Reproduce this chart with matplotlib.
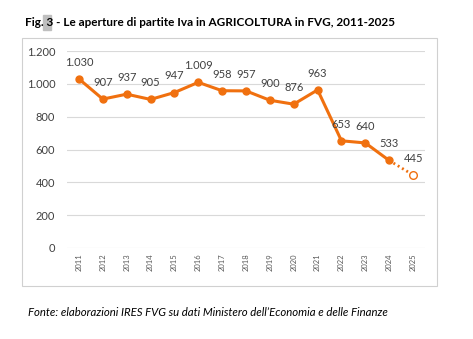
import matplotlib.pyplot as plt
from matplotlib.patches import Rectangle

years = ["2011", "2012", "2013", "2014", "2015", "2016", "2017", "2018",
         "2019", "2020", "2021", "2022", "2023", "2024", "2025"]
openings = [1030, 907, 937, 905, 947, 1009, 958, 957, 900, 876, 963, 653, 640, 533, 445]
value_labels = ["1.030", "907", "937", "905", "947", "1.009", "958", "957",
                "900", "876", "963", "653", "640", "533", "445"]
y_ticks = [0, 200, 400, 600, 800, 1000, 1200]
y_tick_labels = ["0", "200", "400", "600", "800", "1.000", "1.200"]

ORANGE = "#F0700F"
TEXT = "#404040"
FONT = ["Lato", "DejaVu Sans"]
plt.rcParams["font.family"] = FONT

fig = plt.figure(figsize=(4.73, 3.39), dpi=100)

# chart frame
fig.patches.append(Rectangle((22 / 473, 1 - 286 / 339), 415 / 473, 248 / 339,
                             transform=fig.transFigure, fill=False,
                             edgecolor="#D0D0D0", linewidth=0.8))

ax = fig.add_axes([67 / 473, 1 - 248 / 339, 358 / 473, 197 / 339])
x = list(range(len(years)))
last = len(years) - 1

ax.plot(x[:last], openings[:last], color=ORANGE, linewidth=2.2,
        marker="o", markersize=5, zorder=3)
ax.plot(x[last - 1:], openings[last - 1:], color=ORANGE, linewidth=2.0,
        linestyle=(0, (0.7, 1.1)), zorder=3)
ax.plot([x[last]], [openings[last]], marker="o", markersize=5.5,
        markerfacecolor="white", markeredgecolor=ORANGE, markeredgewidth=1.0,
        linestyle="none", zorder=4)

for xi, yi, lab in zip(x, openings, value_labels):
    ax.annotate(lab, (xi, yi), xytext=(0, 8), textcoords="offset points",
                ha="center", va="bottom", fontsize=8, color=TEXT)

ax.set_xlim(-0.5, len(years) - 0.5)
ax.set_ylim(0, 1200)
ax.set_yticks(y_ticks)
ax.set_yticklabels(y_tick_labels, fontsize=8, color=TEXT)
ax.set_xticks(x)
ax.set_xticklabels(years, rotation=90, fontsize=5.5, color="#595959")
ax.tick_params(axis="x", length=0, pad=4)
ax.tick_params(axis="y", length=0, pad=8.5)
ax.grid(axis="y", color="#D9D9D9", linewidth=0.8)
ax.set_axisbelow(True)
for s in ax.spines.values():
    s.set_visible(False)

# title with highlighted figure number
fig.text(25 / 473, 1 - 22 / 339,
         "Fig. 3 - Le aperture di partite Iva in AGRICOLTURA in FVG, 2011-2025",
         fontsize=8.5, fontweight="bold", color="#000000", va="center", ha="left")
fig.patches.append(Rectangle((43 / 473, 1 - 30 / 339), 8 / 473, 15 / 339,
                             transform=fig.transFigure, color="#BFBFBF", zorder=-1))

fig.text(28 / 473, 1 - 313 / 339,
         "Fonte: elaborazioni IRES FVG su dati Ministero dell\u2019Economia e delle Finanze",
         fontsize=8.2, style="italic", color="#000000", va="center", ha="left")

fig.savefig("out.png", dpi=100)
